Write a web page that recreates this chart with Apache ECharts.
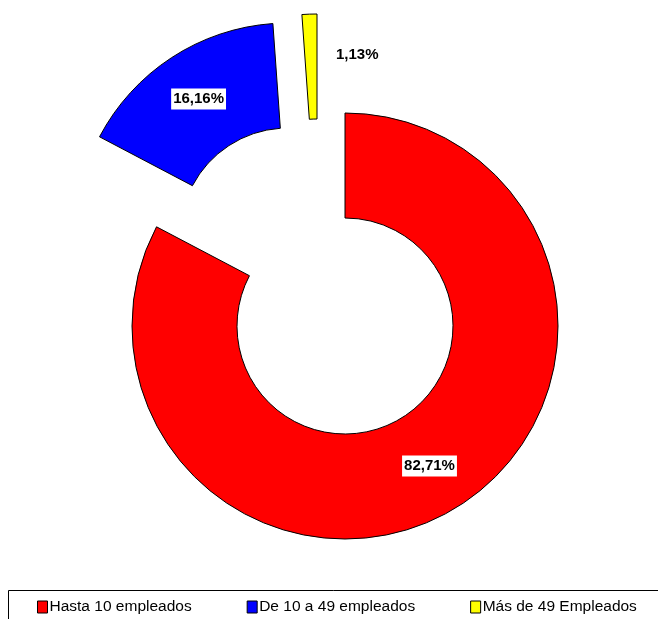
<!DOCTYPE html>
<html>
<head>
<meta charset="utf-8">
<script src="https://cdn.jsdelivr.net/npm/echarts@6/dist/echarts.min.js"></script>
<style>
html,body{margin:0;padding:0;background:#fff;}
#c{width:658px;height:619px;}
</style>
</head>
<body>
<div id="c"></div>
<script>
const categories = ['Hasta 10 empleados', 'De 10 a 49 empleados', 'Más de 49 Empleados'];
const values = [82.71, 16.16, 1.13];
const colors = ['#ff0000', '#0000ff', '#ffff00'];

const chart = echarts.init(document.getElementById('c'));
const centers = [[345, 326], [288, 236], [317, 227]];
const fmt = v => v.toFixed(2).replace('.', ',') + '%';

const series = categories.map((cat, k) => ({
  type: 'pie',
  silent: true,
  radius: [108, 213],
  center: centers[k],
  startAngle: 90,
  clockwise: true,
  animation: false,
  emphasis: { disabled: true },
  labelLine: { show: false },
  labelLayout: k === 2 ? { dx: 46, dy: -9 } : undefined,
  data: categories.map((n, i) => ({
    name: n,
    value: values[i],
    itemStyle: i === k
      ? { color: colors[i], borderColor: '#000', borderWidth: 1 }
      : { color: 'rgba(0,0,0,0)', borderWidth: 0 },
    label: {
      show: i === k,
      position: 'inside',
      formatter: () => fmt(values[i]),
      fontFamily: 'Arial, "Liberation Sans", sans-serif',
      fontWeight: 'bold',
      fontSize: 15,
      color: '#000',
      backgroundColor: k === 2 ? 'transparent' : '#fff',
      padding: [3, 2]
    }
  }))
}));

chart.setOption({
  animation: false,
  backgroundColor: '#fff',
  legend: {
    top: 599,
    left: 37,
    padding: 0,
    itemGap: 55,
    itemWidth: 10,
    itemHeight: 12,
    selectedMode: false,
    icon: 'rect',
    textStyle: { fontFamily: 'Arial, "Liberation Sans", sans-serif', fontSize: 15.5, color: '#000', padding: [0, 0, 0, -3] },
    data: categories.map((n, i) => ({
      name: n,
      itemStyle: { color: colors[i], borderColor: '#000', borderWidth: 1, opacity: 1 }
    }))
  },
  graphic: [{
    type: 'rect',
    silent: true,
    shape: { x: 8.5, y: 590.5, width: 700, height: 60 },
    style: { fill: 'none', stroke: '#000', lineWidth: 1 }
  }],
  series: series
});
</script>
</body>
</html>
